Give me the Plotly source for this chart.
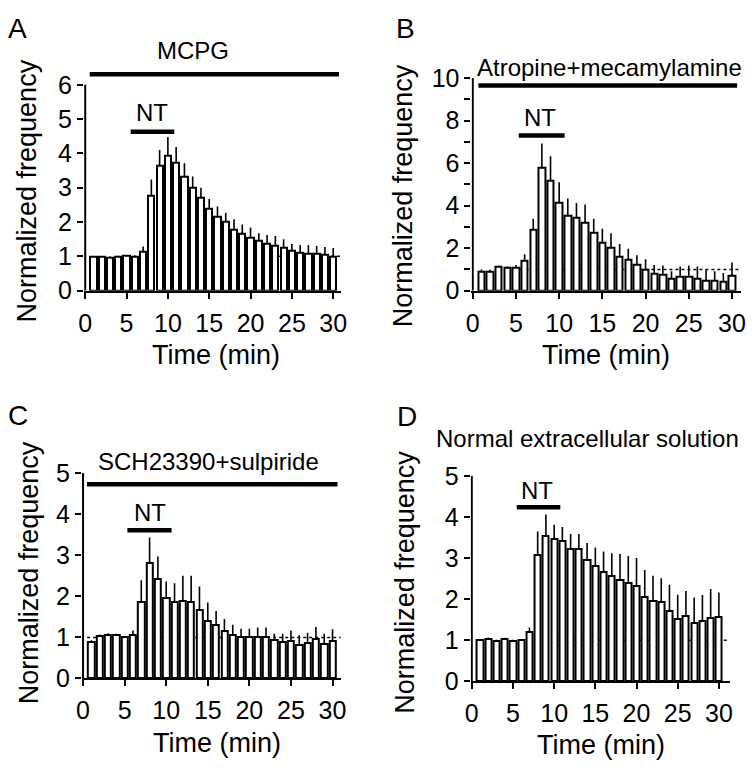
import plotly.graph_objects as go

W, H = 755, 778
FONT = "Liberation Sans, Arial, sans-serif"

time_min = list(range(1, 31))
x_tick_vals = [0, 5, 10, 15, 20, 25, 30]
y_label = "Normalized frequency"
x_label = "Time (min)"

# Panel A: MCPG
a_mean = [0.98, 0.98, 0.97, 0.99, 1.01, 1.00, 1.15, 2.76, 3.64, 3.95,
          3.74, 3.31, 3.00, 2.71, 2.38, 2.16, 2.00, 1.79, 1.67, 1.55,
          1.45, 1.36, 1.31, 1.25, 1.16, 1.10, 1.09, 1.07, 1.05, 1.00]
a_sem = [0.03, 0.03, 0.03, 0.03, 0.03, 0.03, 0.14, 0.48, 0.46, 0.53,
         0.45, 0.40, 0.33, 0.29, 0.29, 0.29, 0.27, 0.29, 0.26, 0.29,
         0.22, 0.26, 0.28, 0.25, 0.20, 0.23, 0.24, 0.23, 0.22, 0.24]

# Panel B: Atropine+mecamylamine
b_mean = [0.91, 0.91, 1.11, 1.09, 1.06, 1.41, 2.88, 5.76, 5.18, 4.14,
          3.53, 3.41, 3.18, 2.70, 2.24, 2.00, 1.59, 1.47, 1.21, 0.98,
          0.79, 0.73, 0.56, 0.65, 0.65, 0.58, 0.48, 0.48, 0.41, 0.71]
b_sem = [0.09, 0.07, 0.06, 0.05, 0.15, 0.30, 0.50, 1.16, 1.14, 0.96,
         0.80, 0.71, 0.87, 0.68, 0.67, 0.70, 0.61, 0.50, 0.46, 0.50,
         0.42, 0.45, 0.35, 0.49, 0.53, 0.56, 0.50, 0.43, 0.42, 0.62]

# Panel C: SCH23390+sulpiride
c_mean = [0.88, 1.04, 1.07, 1.06, 1.00, 1.05, 1.85, 2.81, 2.42, 1.96,
          1.85, 1.88, 1.87, 1.66, 1.39, 1.31, 1.15, 1.07, 1.02, 1.00,
          1.00, 1.00, 0.94, 0.88, 0.90, 0.82, 0.87, 0.95, 0.83, 0.91]
c_sem = [0.05, 0.03, 0.03, 0.03, 0.03, 0.12, 0.54, 0.62, 0.55, 0.40,
         0.47, 0.62, 0.63, 0.58, 0.46, 0.33, 0.30, 0.24, 0.19, 0.21,
         0.24, 0.24, 0.15, 0.21, 0.27, 0.23, 0.24, 0.30, 0.26, 0.29]

# Panel D: Normal extracellular solution
d_mean = [1.00, 1.04, 0.98, 1.03, 0.98, 1.00, 1.21, 3.08, 3.53, 3.48,
          3.41, 3.22, 3.22, 2.96, 2.80, 2.67, 2.57, 2.47, 2.40, 2.32,
          2.06, 1.96, 1.93, 1.72, 1.53, 1.59, 1.43, 1.47, 1.55, 1.56]
d_sem = [0.03, 0.03, 0.03, 0.03, 0.03, 0.03, 0.10, 0.57, 0.53, 0.33,
         0.35, 0.37, 0.37, 0.41, 0.46, 0.49, 0.55, 0.63, 0.65, 0.68,
         0.65, 0.61, 0.58, 0.63, 0.58, 0.61, 0.61, 0.63, 0.70, 0.60]

panels = [
    dict(letter="A", mean=a_mean, sem=a_sem, drug="MCPG", drug_bar=(0.54, 30.7, 6.31),
         drug_text=(13.0, 7.0), nt_bar=(5.5, 10.77, 4.63), nt_text=(8.1, 5.18),
         dot_from=6.5, ytop=6, ytickvals=[0, 1, 2, 3, 4, 5, 6], minor=False,
         x0=80.5, ppx=8.4, xr=(-0.15, 31.0), y0=288.3, ppy=35.5, yr=(0, 6.5),
         letter_xy=(12, 17), ytitle_xy=(21, 185), xtitle_xy=(213, 355)),
    dict(letter="B", mean=b_mean, sem=b_sem, drug="Atropine+mecamylamine", drug_bar=(0.65, 30.6, 9.65),
         drug_text=(15.85, 10.5), nt_bar=(5.32, 10.63, 7.3), nt_text=(7.82, 8.14),
         dot_from=5.4, ytop=10, ytickvals=[0, 2, 4, 6, 8, 10], minor=True,
         x0=474.3, ppx=8.78, xr=(-0.15, 31.0), y0=288.3, ppy=22.0, yr=(0, 10.2),
         letter_xy=(406, 17), ytitle_xy=(403, 190), xtitle_xy=(610, 355)),
    dict(letter="C", mean=c_mean, sem=c_sem, drug="SCH23390+sulpiride", drug_bar=(0.47, 30.6, 4.73),
         drug_text=(15.1, 5.28), nt_bar=(5.33, 10.65, 3.61), nt_text=(8.03, 4.03),
         dot_from=0.5, ytop=5, ytickvals=[0, 1, 2, 3, 4, 5], minor=False,
         x0=78.3, ppx=8.45, xr=(-0.15, 31.0), y0=689.5, ppy=42.5, yr=(0, 5.05),
         letter_xy=(12, 417), ytitle_xy=(23, 580), xtitle_xy=(214, 756)),
    dict(letter="D", mean=d_mean, sem=d_sem, drug="Normal extracellular solution", drug_bar=None,
         drug_text=(14.1, 5.9), nt_bar=(5.46, 10.75, 4.24), nt_text=(7.97, 4.65),
         dot_from=10.2, ytop=5, ytickvals=[0, 1, 2, 3, 4, 5], minor=False,
         x0=473.3, ppx=8.37, xr=(-0.15, 31.3), y0=692.5, ppy=42.5, yr=(0, 5.05),
         letter_xy=(407, 419), ytitle_xy=(406, 590), xtitle_xy=(605, 758)),
]

fig = go.Figure()
shapes = []
annotations = []

for i, p in enumerate(panels):
    n = i + 1
    xa = "x" if n == 1 else f"x{n}"
    ya = "y" if n == 1 else f"y{n}"
    xdom = [(p["x0"] + p["xr"][0] * p["ppx"]) / W, (p["x0"] + p["xr"][1] * p["ppx"]) / W]
    ydom = [1 - (p["y0"] - p["yr"][0] * p["ppy"]) / H, 1 - (p["y0"] - p["yr"][1] * p["ppy"]) / H]

    def to_paper(xv, yv, p=p):
        return (p["x0"] + xv * p["ppx"]) / W, 1 - (p["y0"] - yv * p["ppy"]) / H

    fig.add_trace(go.Bar(
        x=time_min, y=p["mean"], width=0.75, xaxis=xa, yaxis=ya,
        marker=dict(color="white", line=dict(color="black", width=2)),
        error_y=dict(type="data", symmetric=False, array=p["sem"],
                     arrayminus=[0] * len(p["sem"]), color="black", thickness=1.6, width=0),
        showlegend=False, hoverinfo="skip"))

    xkey = "xaxis" if n == 1 else f"xaxis{n}"
    ykey = "yaxis" if n == 1 else f"yaxis{n}"
    fig.update_layout({
        xkey: dict(domain=xdom, range=list(p["xr"]), anchor=ya, tickvals=x_tick_vals,
                   showline=True, linecolor="black", linewidth=2, ticks="outside",
                   ticklen=6, tickwidth=2, tickcolor="black", showgrid=False, zeroline=False,
                   tickfont=dict(family=FONT, size=25, color="black"), ticklabelstandoff=3),
        ykey: dict(domain=ydom, range=list(p["yr"]), anchor=xa, tickvals=p["ytickvals"],
                   showline=False, ticks="outside", ticklen=6, tickwidth=2, tickcolor="black",
                   showgrid=False, zeroline=False,
                   tickfont=dict(family=FONT, size=25, color="black"),
                   minor=dict(dtick=1, ticks="outside", ticklen=6, tickwidth=2, tickcolor="black")
                   if p["minor"] else None),
    })

    # y axis line (stops at top tick)
    shapes.append(dict(type="line", xref=xa, yref=ya, x0=0, x1=0, y0=0, y1=p["ytop"],
                       line=dict(color="black", width=2)))
    # baseline dotted line
    shapes.append(dict(type="line", xref=xa, yref=ya, x0=p["dot_from"], x1=p["xr"][1], y0=1, y1=1,
                       line=dict(color="black", width=1.5, dash="dot"), layer="below"))
    # drug application bar
    if p["drug_bar"]:
        dx0, dx1, dy = p["drug_bar"]
        shapes.append(dict(type="line", xref=xa, yref=ya, x0=dx0, x1=dx1, y0=dy, y1=dy,
                           line=dict(color="black", width=4.5)))
    # NT bar
    nx0, nx1, ny = p["nt_bar"]
    shapes.append(dict(type="line", xref=xa, yref=ya, x0=nx0, x1=nx1, y0=ny, y1=ny,
                       line=dict(color="black", width=4.5)))

    px, py = to_paper(*p["drug_text"])
    annotations.append(dict(xref="paper", yref="paper", x=px, y=py,
                            text=p["drug"], showarrow=False, xanchor="center", yanchor="middle",
                            font=dict(family=FONT, size=24, color="black")))
    px, py = to_paper(*p["nt_text"])
    annotations.append(dict(xref="paper", yref="paper", x=px, y=py,
                            text="NT", showarrow=False, xanchor="center", yanchor="middle",
                            font=dict(family=FONT, size=24, color="black")))
    lx, ly = p["letter_xy"]
    annotations.append(dict(xref="paper", yref="paper", x=lx / W, y=1 - ly / H, text=p["letter"],
                            showarrow=False, xanchor="center", yanchor="middle",
                            font=dict(family=FONT, size=28, color="black")))
    tx, ty = p["ytitle_xy"]
    annotations.append(dict(xref="paper", yref="paper", x=tx / W, y=1 - ty / H, text=y_label,
                            textangle=-90, showarrow=False, xanchor="center", yanchor="middle",
                            font=dict(family=FONT, size=27, color="black")))
    tx, ty = p["xtitle_xy"]
    annotations.append(dict(xref="paper", yref="paper", x=tx / W, y=1 - ty / H, text=x_label,
                            showarrow=False, xanchor="center", yanchor="middle",
                            font=dict(family=FONT, size=27, color="black")))

fig.update_layout(width=W, height=H, margin=dict(l=0, r=0, t=0, b=0),
                  paper_bgcolor="white", plot_bgcolor="white", bargap=0,
                  shapes=shapes, annotations=annotations,
                  font=dict(family=FONT, color="black"))

fig.write_html("out.html", config={"displayModeBar": False},
               post_script="document.body.style.margin='0px';")
